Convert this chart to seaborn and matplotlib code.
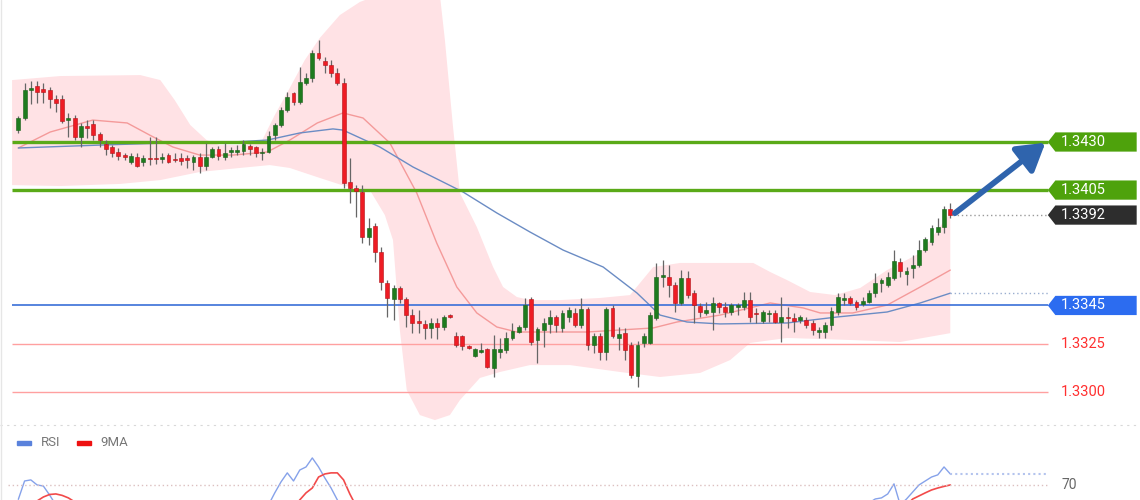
import numpy as np
import seaborn as sns
import matplotlib.pyplot as plt
from matplotlib.patches import Polygon, Rectangle
from matplotlib.lines import Line2D

# candles (OHLC)
opens = [1.34362, 1.34424, 1.34570, 1.34591, 1.34575, 1.34570, 1.34523, 1.34523, 1.34414, 1.34424,
         1.34326, 1.34383, 1.34393, 1.34341, 1.34289, 1.34274, 1.34248, 1.34227, 1.34196, 1.34222,
         1.34196, 1.34216, 1.34216, 1.34211, 1.34232, 1.34211, 1.34216, 1.34216, 1.34196, 1.34222,
         1.34175, 1.34222, 1.34263, 1.34222, 1.34248, 1.34248, 1.34253, 1.34279, 1.34274, 1.34242,
         1.34248, 1.34336, 1.34388, 1.34466, 1.34554, 1.34508, 1.34606, 1.34632, 1.34762, 1.34721,
         1.34700, 1.34658, 1.34606, 1.34092, 1.34060, 1.34040, 1.33806, 1.33863, 1.33728, 1.33566,
         1.33483, 1.33540, 1.33483, 1.33400, 1.33369, 1.33353, 1.33332, 1.33358, 1.33338, 1.33400,
         1.33291, 1.33291, 1.33239, 1.33187, 1.33208, 1.33223, 1.33124, 1.33208, 1.33218, 1.33280,
         1.33312, 1.33338, 1.33483, 1.33270, 1.33322, 1.33353, 1.33390, 1.33332, 1.33390, 1.33410,
         1.33348, 1.33431, 1.33244, 1.33291, 1.33208, 1.33436, 1.33280, 1.33306, 1.33244, 1.33083,
         1.33254, 1.33254, 1.33384, 1.33598, 1.33598, 1.33556, 1.33462, 1.33592, 1.33514, 1.33447,
         1.33410, 1.33416, 1.33462, 1.33442, 1.33416, 1.33442, 1.33442, 1.33478, 1.33410, 1.33369,
         1.33405, 1.33410, 1.33364, 1.33390, 1.33384, 1.33374, 1.33374, 1.33358, 1.33312, 1.33312,
         1.33348, 1.33416, 1.33478, 1.33488, 1.33468, 1.33457, 1.33468, 1.33514, 1.33566, 1.33556,
         1.33592, 1.33676, 1.33613, 1.33644, 1.33660, 1.33738, 1.33780, 1.33832, 1.33858, 1.33951]
closes = [1.34424, 1.34570, 1.34580, 1.34560, 1.34560, 1.34523, 1.34502, 1.34409, 1.34424, 1.34326,
          1.34383, 1.34372, 1.34336, 1.34310, 1.34263, 1.34242, 1.34227, 1.34222, 1.34227, 1.34175,
          1.34216, 1.34211, 1.34211, 1.34222, 1.34196, 1.34206, 1.34201, 1.34206, 1.34222, 1.34175,
          1.34222, 1.34263, 1.34227, 1.34242, 1.34253, 1.34253, 1.34289, 1.34263, 1.34242, 1.34248,
          1.34331, 1.34388, 1.34466, 1.34534, 1.34508, 1.34612, 1.34632, 1.34762, 1.34736, 1.34700,
          1.34658, 1.34606, 1.34086, 1.34060, 1.34045, 1.33806, 1.33852, 1.33728, 1.33572, 1.33488,
          1.33540, 1.33483, 1.33400, 1.33358, 1.33358, 1.33332, 1.33358, 1.33338, 1.33390, 1.33390,
          1.33244, 1.33239, 1.33228, 1.33223, 1.33218, 1.33130, 1.33223, 1.33223, 1.33280, 1.33317,
          1.33338, 1.33452, 1.33260, 1.33327, 1.33358, 1.33390, 1.33348, 1.33410, 1.33426, 1.33348,
          1.33431, 1.33244, 1.33291, 1.33208, 1.33431, 1.33291, 1.33301, 1.33218, 1.33088, 1.33244,
          1.33291, 1.33400, 1.33598, 1.33603, 1.33556, 1.33462, 1.33592, 1.33504, 1.33452, 1.33416,
          1.33426, 1.33462, 1.33442, 1.33416, 1.33452, 1.33447, 1.33478, 1.33390, 1.33405, 1.33416,
          1.33410, 1.33364, 1.33390, 1.33384, 1.33369, 1.33390, 1.33348, 1.33322, 1.33322, 1.33348,
          1.33421, 1.33494, 1.33488, 1.33462, 1.33442, 1.33473, 1.33514, 1.33566, 1.33582, 1.33598,
          1.33681, 1.33629, 1.33629, 1.33660, 1.33738, 1.33795, 1.33852, 1.33858, 1.33951, 1.33920]
highs = [1.34435, 1.34606, 1.34617, 1.34617, 1.34606, 1.34586, 1.34544, 1.34544, 1.34450, 1.34440,
         1.34398, 1.34414, 1.34414, 1.34352, 1.34310, 1.34284, 1.34268, 1.34242, 1.34242, 1.34242,
         1.34232, 1.34326, 1.34326, 1.34242, 1.34242, 1.34242, 1.34242, 1.34232, 1.34232, 1.34242,
         1.34294, 1.34274, 1.34279, 1.34294, 1.34274, 1.34284, 1.34310, 1.34289, 1.34279, 1.34268,
         1.34357, 1.34398, 1.34482, 1.34560, 1.34560, 1.34690, 1.34658, 1.34778, 1.34830, 1.34742,
         1.34726, 1.34684, 1.34632, 1.34216, 1.34076, 1.34076, 1.33904, 1.33878, 1.33754, 1.33582,
         1.33556, 1.33551, 1.33494, 1.33431, 1.33426, 1.33374, 1.33384, 1.33384, 1.33400, 1.33405,
         1.33312, 1.33296, 1.33244, 1.33228, 1.33254, 1.33228, 1.33296, 1.33280, 1.33312, 1.33358,
         1.33348, 1.33488, 1.33494, 1.33338, 1.33384, 1.33426, 1.33400, 1.33426, 1.33442, 1.33436,
         1.33488, 1.33442, 1.33306, 1.33306, 1.33442, 1.33452, 1.33338, 1.33332, 1.33260, 1.33265,
         1.33306, 1.33416, 1.33670, 1.33686, 1.33660, 1.33572, 1.33634, 1.33629, 1.33530, 1.33462,
         1.33468, 1.33494, 1.33468, 1.33468, 1.33462, 1.33462, 1.33520, 1.33520, 1.33436, 1.33426,
         1.33426, 1.33426, 1.33494, 1.33442, 1.33410, 1.33400, 1.33390, 1.33374, 1.33338, 1.33364,
         1.33442, 1.33514, 1.33514, 1.33499, 1.33478, 1.33494, 1.33530, 1.33618, 1.33592, 1.33624,
         1.33738, 1.33696, 1.33650, 1.33712, 1.33790, 1.33806, 1.33868, 1.33904, 1.33967, 1.33982]
lows = [1.34346, 1.34414, 1.34497, 1.34502, 1.34502, 1.34476, 1.34456, 1.34398, 1.34326, 1.34310,
        1.34274, 1.34320, 1.34310, 1.34274, 1.34232, 1.34222, 1.34206, 1.34206, 1.34185, 1.34170,
        1.34175, 1.34180, 1.34185, 1.34190, 1.34190, 1.34196, 1.34180, 1.34164, 1.34154, 1.34138,
        1.34154, 1.34216, 1.34206, 1.34206, 1.34222, 1.34232, 1.34232, 1.34232, 1.34222, 1.34206,
        1.34242, 1.34310, 1.34378, 1.34456, 1.34492, 1.34497, 1.34596, 1.34612, 1.34726, 1.34658,
        1.34638, 1.34596, 1.34060, 1.33982, 1.33910, 1.33774, 1.33764, 1.33676, 1.33530, 1.33390,
        1.33374, 1.33462, 1.33338, 1.33306, 1.33306, 1.33275, 1.33280, 1.33275, 1.33322, 1.33384,
        1.33234, 1.33218, 1.33223, 1.33182, 1.33202, 1.33124, 1.33078, 1.33176, 1.33202, 1.33270,
        1.33306, 1.33322, 1.33244, 1.33150, 1.33234, 1.33306, 1.33312, 1.33312, 1.33364, 1.33338,
        1.33332, 1.33218, 1.33202, 1.33166, 1.33166, 1.33280, 1.33218, 1.33166, 1.33072, 1.33026,
        1.33234, 1.33249, 1.33374, 1.33546, 1.33494, 1.33416, 1.33452, 1.33488, 1.33358, 1.33390,
        1.33400, 1.33322, 1.33410, 1.33390, 1.33400, 1.33400, 1.33426, 1.33364, 1.33358, 1.33358,
        1.33364, 1.33358, 1.33260, 1.33332, 1.33312, 1.33358, 1.33332, 1.33296, 1.33280, 1.33280,
        1.33322, 1.33400, 1.33452, 1.33452, 1.33426, 1.33447, 1.33462, 1.33494, 1.33520, 1.33546,
        1.33582, 1.33598, 1.33556, 1.33592, 1.33650, 1.33728, 1.33764, 1.33816, 1.33826, 1.33904]

# bollinger band edges (candle index, price)
bb_up_idx = [-1, 6.7, 19.5, 22.7, 25, 27.5, 30.1, 32.2, 36.2, 39, 41, 43.4, 45.8, 48.2, 51.4, 54.6,
             57.5, 67.4, 68.2, 69.5, 70.6, 73.3, 75.9, 77.5, 79.7, 81.8, 86.6, 93, 97.8, 101.5,
             105.8, 117.5, 120.2, 122.9, 126.6, 130.6, 134.6, 138.9, 144.2, 149]
bb_up = [1.34622, 1.34643, 1.34648, 1.34622, 1.34518, 1.34388, 1.34310, 1.34284, 1.34284, 1.34310,
         1.34440, 1.34581, 1.34726, 1.34841, 1.34960, 1.35028, 1.35064, 1.35064, 1.34830, 1.34378,
         1.34035, 1.33858, 1.33650, 1.33546, 1.33494, 1.33478, 1.33478, 1.33489, 1.33504, 1.33650,
         1.33671, 1.33671, 1.33624, 1.33582, 1.33520, 1.33504, 1.33541, 1.33634, 1.33723, 1.33931]
bb_lo_idx = [-1, 6.7, 16.3, 22.7, 29, 35.4, 40.2, 43.4, 48.2, 52.2, 56.2, 58.6, 59.9, 61, 62.1,
             64.2, 66.6, 69, 70.6, 73.8, 77, 81.8, 88.2, 96.2, 102.6, 109, 113.8, 117, 122.9,
             133.4, 141, 149]
bb_lo = [1.34076, 1.34071, 1.34082, 1.34102, 1.34144, 1.34165, 1.34180, 1.34165, 1.34113, 1.34071,
         1.34050, 1.33920, 1.33790, 1.33322, 1.33010, 1.32880, 1.32854, 1.32880, 1.32958, 1.33073,
         1.33104, 1.33140, 1.33140, 1.33104, 1.33078, 1.33099, 1.33166, 1.33255, 1.33281, 1.33270,
         1.33260, 1.33306]

# moving averages
ma_fast_idx = [0, 5.1, 11.9, 17.4, 21, 24.7, 29, 34.3, 39.8, 43.4, 47.8, 51.9, 55.1, 59.4, 63.7,
               66.9, 70.1, 73.3, 76.5, 79.7, 90.9, 101.5, 105.3, 112.2, 120.2, 125.5, 128.2, 133.4,
               138.9, 144.2, 149]
ma_fast = [1.34269, 1.34352, 1.34414, 1.34399, 1.34336, 1.34274, 1.34232, 1.34232, 1.34248, 1.34310,
           1.34399, 1.34451, 1.34425, 1.34295, 1.34035, 1.33774, 1.33546, 1.33411, 1.33338, 1.33312,
           1.33312, 1.33333, 1.33364, 1.33400, 1.33463, 1.33437, 1.33411, 1.33411, 1.33452, 1.33546,
           1.33634]
ma_slow_idx = [0, 13.1, 23.8, 34.3, 39.8, 45, 50.3, 51.9, 57.8, 63.1, 71.1, 76.5, 81.8, 87.1, 93.5,
               98.9, 102.6, 106.9, 112.2, 122.9, 130.9, 138.9, 144.2, 149]
ma_slow = [1.34269, 1.34284, 1.34295, 1.34300, 1.34310, 1.34347, 1.34368, 1.34362, 1.34274, 1.34170,
           1.34040, 1.33931, 1.33832, 1.33738, 1.33650, 1.33515, 1.33400, 1.33364, 1.33354, 1.33359,
           1.33390, 1.33416, 1.33463, 1.33514]

# support / resistance levels
levels = [1.3430, 1.3405, 1.3345, 1.3325, 1.3300]
level_labels = ['1.3430', '1.3405', '1.3345', '1.3325', '1.3300']
level_kind = ['res', 'res', 'pivot', 'sup', 'sup']

# RSI panel (only the part above the bottom edge is visible)
rsi_segments = [
    (list(range(0, 7)), [62.0, 72.2, 72.8, 70.0, 69.4, 64.4, 58.9]),
    (list(range(40, 53)), [58.9, 65.6, 71.7, 76.7, 72.2, 78.3, 80.0, 85.0, 80.0, 73.9, 68.3, 61.7, 56.1]),
    (list(range(136, 150)), [60.0, 62.2, 62.8, 65.0, 70.6, 58.9, 62.2, 66.1, 70.0, 72.2, 74.4, 75.6,
                             80.0, 76.1]),
]
ma9_segments = [
    (list(range(2, 10)), [58.3, 61.1, 63.3, 64.7, 65.0, 64.2, 62.8, 60.6]),
    (list(range(44, 55)), [57.2, 61.7, 65.6, 68.3, 74.4, 76.1, 76.7, 76.7, 72.8, 65.0, 58.3]),
    (list(range(142, 150)), [58.9, 62.2, 63.9, 65.6, 67.2, 68.3, 69.2, 70.0]),
]

sns.set_style('white')
plt.rcParams['font.family'] = ['Roboto', 'DejaVu Sans']

fig = plt.figure(figsize=(11.4, 5), dpi=100)
ax = fig.add_axes([0, 0.15, 1, 0.85])
rax = fig.add_axes([0, -0.21, 1, 0.36])
for a in (ax, rax):
    a.set_xlim(-2.93, 179.33)
    a.axis('off')
ax.set_ylim(1.328284, 1.350384)
rax.set_ylim(3.3, 103.3)

n = len(opens)
idx = np.arange(n)
o = np.array(opens); c = np.array(closes)
h = np.array(highs); l = np.array(lows)
up = c >= o

# band
ax.fill(np.r_[bb_up_idx, bb_lo_idx[::-1]], np.r_[bb_up, bb_lo[::-1]],
        color='#ffe2e5', lw=0, zorder=0)

# moving averages
sns.lineplot(x=ma_fast_idx, y=ma_fast, ax=ax, color='#f49a9a', lw=1.0, zorder=2)
sns.lineplot(x=ma_slow_idx, y=ma_slow, ax=ax, color='#6b8cc4', lw=1.0, zorder=2)

# level lines
xl0, xl1 = -1.0, 164.6
style = {'res': ('#5aaa18', 2.4), 'pivot': ('#3a6fd8', 1.2), 'sup': ('#ffa0a0', 1.0)}
for lv, kind in zip(levels, level_kind):
    col, lw = style[kind]
    ax.hlines(lv, xl0, xl1, color=col, lw=lw, zorder=3)

# candles
ax.vlines(idx, l, h, color='#666666', lw=0.9, zorder=4)
body = np.maximum(np.abs(c - o), 0.00008)
ax.bar(idx[up], body[up], bottom=np.minimum(o, c)[up], width=0.62,
       color='#1e7b1e', edgecolor='#195f19', lw=0.4, zorder=5)
ax.bar(idx[~up], body[~up], bottom=np.minimum(o, c)[~up], width=0.62,
       color='#ee1c24', edgecolor='#b01218', lw=0.4, zorder=5)

# dotted extensions
last = closes[-1]
ax.hlines(last, n - 0.5, xl1, color='#9a9a9a', lw=1, linestyles=(0, (1, 2)), zorder=3)
ax.hlines(ma_slow[-1], ma_slow_idx[-1], xl1, color='#9aaed0', lw=1, linestyles=(0, (1, 2)), zorder=3)

# arrow toward target
ax.annotate('', xy=(164.2, levels[0] - 0.00004), xytext=(n - 0.25, last + 0.0001),
            arrowprops=dict(arrowstyle='-|>,head_length=0.9,head_width=0.55', lw=4.2,
                            color='#2f64ad', shrinkA=0, shrinkB=0, mutation_scale=18),
            zorder=6)

# right-hand price tags
def tag(y, text, fc):
    hh = 0.00050
    pts = [(164.6, y), (165.8, y + hh), (178.8, y + hh), (178.8, y - hh), (165.8, y - hh)]
    ax.add_patch(Polygon(pts, closed=True, fc=fc, ec='none', zorder=7))
    ax.text(166.7, y, text, color='white', fontsize=10.5, va='center', ha='left', zorder=8)

tag(levels[0], level_labels[0], '#4ea20c')
tag(levels[1], level_labels[1], '#4ea20c')
tag(last, f'{last:.4f}', '#2d2d2d')
tag(levels[2], level_labels[2], '#2c6cf0')
for lv, lab in zip(levels[3:], level_labels[3:]):
    ax.text(166.7, lv, lab, color='#ff3030', fontsize=10.5, va='center', ha='left', zorder=8)

# RSI panel
for xs, ys in rsi_segments:
    sns.lineplot(x=xs, y=ys, ax=rax, color='#86a2ea', lw=1.0)
for xs, ys in ma9_segments:
    sns.lineplot(x=xs, y=ys, ax=rax, color='#f24a4a', lw=1.2)
rax.hlines(70, -1.6, xl1, color='#dcc0c0', lw=1, linestyles=(0, (1, 2)))
rax.hlines(rsi_segments[-1][1][-1], rsi_segments[-1][0][-1], xl1, color='#b4c4ee', lw=1.5,
           linestyles=(0, (1, 1.5)))
rax.text(166.7, 70, '70', color='#666666', fontsize=10, va='center', ha='left')

# separator and legend
fig.add_artist(Line2D([0, 1], [0.151, 0.151], transform=fig.transFigure,
                      color='#d8d8d8', lw=0.8, ls=(0, (2, 4))))
fig.add_artist(Line2D([0.001, 0.001], [0, 1], transform=fig.transFigure, color='#e6e6e6', lw=1))
fig.add_artist(Rectangle((17 / 1140, 1 - 445 / 500), 14 / 1140, 4 / 500,
                         transform=fig.transFigure, color='#5a82dc'))
fig.text(41 / 1140, 1 - 443 / 500, 'RSI', color='#777777', fontsize=9.5, va='center')
fig.add_artist(Rectangle((77 / 1140, 1 - 445 / 500), 14 / 1140, 4 / 500,
                         transform=fig.transFigure, color='#ee1111'))
fig.text(100 / 1140, 1 - 443 / 500, '9MA', color='#777777', fontsize=9.5, va='center')

plt.savefig('out.png', dpi=100)
